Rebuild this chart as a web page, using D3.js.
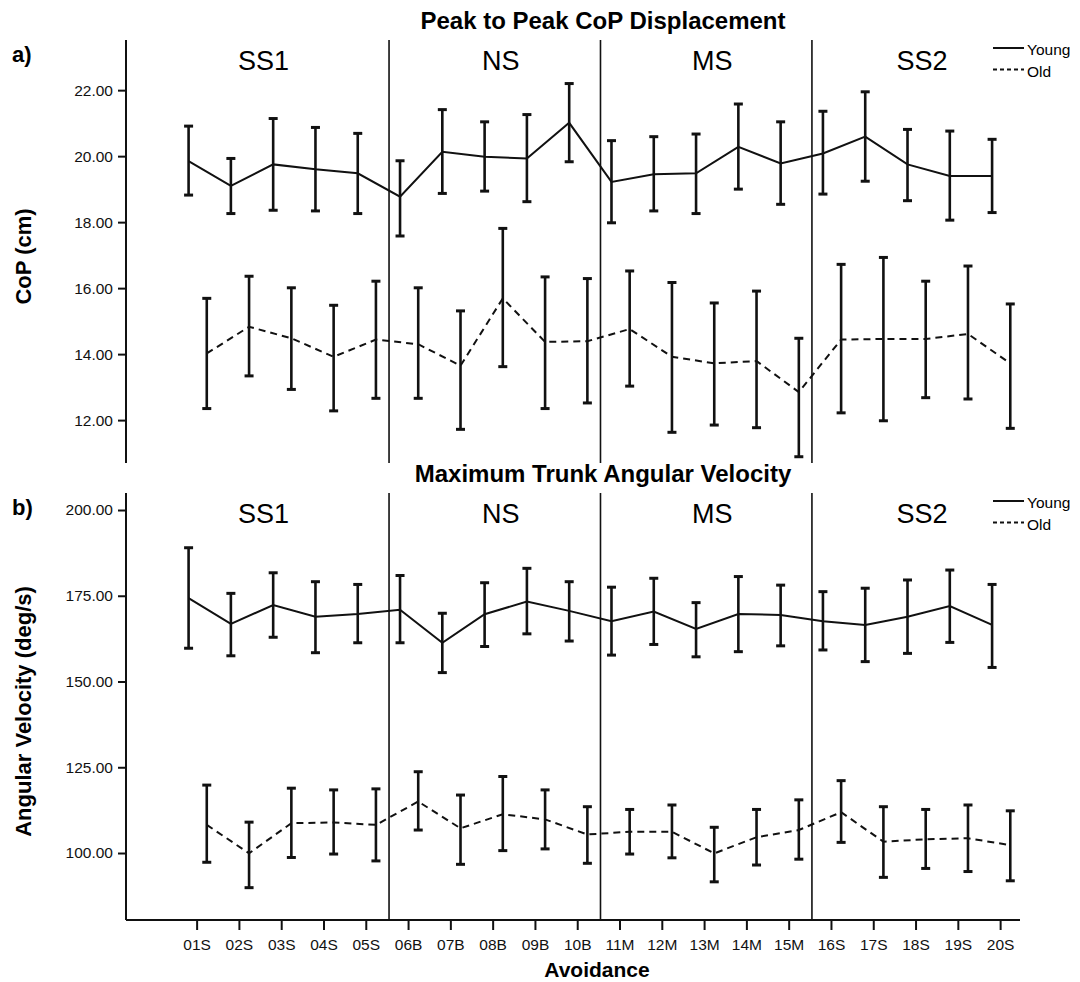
<!DOCTYPE html>
<html>
<head>
<meta charset="utf-8">
<script src="https://cdn.jsdelivr.net/npm/d3@7"></script>
<style>
  body { margin: 0; background: #fff; }
  svg { font-family: "Liberation Sans", Arial, sans-serif; }
  .title { font-weight: bold; font-size: 24px; }
  .axis-label { font-weight: bold; font-size: 22px; }
  .panel-label { font-weight: bold; font-size: 22px; }
  .segment { font-size: 27px; }
  .legend text { font-size: 15.5px; }
  .tick text { font-size: 15.5px; }
</style>
</head>
<body>
<svg width="1080" height="982"></svg>
<script>
// categories on the x axis
const categories = ['01S','02S','03S','04S','05S','06B','07B','08B','09B','10B',
                    '11M','12M','13M','14M','15M','16S','17S','18S','19S','20S'];
const segments = ['SS1', 'NS', 'MS', 'SS2'];

// a) Peak to Peak CoP Displacement (cm)
const copYoungMean  = [19.85,19.10,19.75,19.60,19.48,18.77,20.13,19.98,19.93,21.01,19.22,19.45,19.48,20.28,19.78,20.08,20.59,19.75,19.40,19.40];
const copYoungUpper = [20.91,19.93,21.14,20.87,20.69,19.86,21.41,21.04,21.26,22.20,20.47,20.59,20.67,21.58,21.04,21.36,21.95,20.81,20.76,20.51];
const copYoungLower = [18.82,18.26,18.36,18.34,18.26,17.58,18.87,18.94,18.62,19.83,17.98,18.34,18.26,19.00,18.54,18.85,19.24,18.65,18.06,18.29];
const copOldMean    = [14.02,14.83,14.48,13.92,14.44,14.30,13.65,15.69,14.37,14.39,14.76,13.92,13.72,13.79,12.85,14.44,14.46,14.46,14.61,13.72];
const copOldUpper   = [15.69,16.36,16.01,15.48,16.21,16.01,15.31,17.81,16.34,16.29,16.52,16.17,15.55,15.91,14.48,16.72,16.93,16.21,16.67,15.52];
const copOldLower   = [12.35,13.34,12.93,12.28,12.66,12.66,11.72,13.62,12.35,12.52,13.03,11.63,11.85,11.77,10.89,12.22,11.98,12.68,12.64,11.75];
const copTicks = [12, 14, 16, 18, 20, 22];

// b) Maximum Trunk Angular Velocity (deg/s)
const velYoungMean  = [174.3,166.8,172.3,168.9,169.7,170.9,161.3,169.6,173.3,170.6,167.6,170.4,165.3,169.7,169.4,167.6,166.5,168.9,172.0,166.5];
const velYoungUpper = [189.0,175.7,181.7,179.1,178.3,180.9,169.9,178.8,183.0,179.1,177.5,180.1,173.0,180.6,178.1,176.2,177.2,179.6,182.5,178.3];
const velYoungLower = [159.7,157.5,162.9,158.4,161.3,161.3,152.6,160.2,163.9,161.8,157.7,160.8,157.2,158.7,160.4,159.2,155.8,158.2,161.4,154.1];
const velOldMean    = [108.2, 99.9,108.7,108.9,108.2,115.0,107.2,111.3,109.8,105.4,106.2,106.2, 99.9,104.6,106.7,111.9,103.3,104.0,104.3,102.3];
const velOldUpper   = [119.8,109.0,118.9,118.4,118.7,123.7,116.9,122.3,118.4,113.5,112.7,114.0,107.5,112.7,115.5,121.1,113.5,112.7,114.0,112.3];
const velOldLower   = [ 97.3, 89.9, 98.7, 99.7, 97.7,106.7, 96.7,100.7,101.2, 97.0, 99.7, 98.6, 91.6, 96.5, 98.2,103.1, 92.9, 95.5, 94.6, 91.9];
const velTicks = [100, 125, 150, 175, 200];

const svg = d3.select('svg');

// x positions: category index -> pixels
const xScale = d3.scaleLinear()
  .domain([-1.67, 19.47])
  .range([126, 1020]);
const youngShift = -0.19;
const oldShift = 0.24;
const separators = [4.55, 9.55, 14.55];
const bounds = [-1.67, 4.55, 9.55, 14.55, 19.47];

const drawPanel = (p) => {
  const yScale = d3.scaleLinear().domain(p.domain).range([p.bottom, p.top]);
  const g = svg.append('g');

  // separators between conditions
  g.selectAll('line.sep').data(separators).enter().append('line')
    .attr('class', 'sep')
    .attr('x1', d => xScale(d)).attr('x2', d => xScale(d))
    .attr('y1', p.top).attr('y2', p.bottom)
    .attr('stroke', '#111').attr('stroke-width', 1.6);

  // condition labels
  g.selectAll('text.segment').data(segments).enter().append('text')
    .attr('class', 'segment')
    .attr('x', (d, i) => (xScale(bounds[i]) + xScale(bounds[i + 1])) / 2 + 6)
    .attr('y', p.top + 30)
    .attr('text-anchor', 'middle')
    .text(d => d);

  // y axis
  const yAxis = d3.axisLeft(yScale)
    .tickValues(p.ticks)
    .tickFormat(d3.format('.2f'))
    .tickSize(8)
    .tickPadding(5);
  const yAxisG = g.append('g')
    .attr('transform', `translate(${xScale.range()[0]},0)`)
    .call(yAxis);
  yAxisG.select('.domain').remove();
  yAxisG.selectAll('.tick line').attr('stroke', '#111').attr('stroke-width', 2);
  yAxisG.selectAll('.tick text').attr('fill', '#111').attr('font-family', null).attr('font-size', null);
  g.append('line')
    .attr('x1', xScale.range()[0]).attr('x2', xScale.range()[0])
    .attr('y1', p.top).attr('y2', p.bottom)
    .attr('stroke', '#111').attr('stroke-width', 2);

  // y axis title
  g.append('text')
    .attr('class', 'axis-label')
    .attr('transform', `translate(31,${(p.top + p.bottom) / 2 + 5}) rotate(-90)`)
    .attr('text-anchor', 'middle')
    .text(p.yLabel);

  // panel label and title
  g.append('text').attr('class', 'panel-label')
    .attr('x', 12).attr('y', p.top + 22).text(p.tag);
  g.append('text').attr('class', 'title')
    .attr('x', 603).attr('y', p.top - 11)
    .attr('text-anchor', 'middle').text(p.title);

  const groups = [
    { mean: p.oldMean, upper: p.oldUpper, lower: p.oldLower, shift: oldShift, dash: '7,5' },
    { mean: p.youngMean, upper: p.youngUpper, lower: p.youngLower, shift: youngShift, dash: null }
  ];

  groups.forEach(s => {
    const xs = i => xScale(i + s.shift);
    const lineGen = d3.line()
      .x((d, i) => xs(i))
      .y(d => yScale(d));
    g.append('path')
      .attr('d', lineGen(s.mean))
      .attr('fill', 'none')
      .attr('stroke', '#111')
      .attr('stroke-width', 2)
      .attr('stroke-dasharray', s.dash);

    const bars = g.append('g').selectAll('g').data(categories).enter().append('g');
    bars.append('line')
      .attr('x1', (d, i) => xs(i)).attr('x2', (d, i) => xs(i))
      .attr('y1', (d, i) => yScale(s.upper[i])).attr('y2', (d, i) => yScale(s.lower[i]))
      .attr('stroke', '#111').attr('stroke-width', 2.6);
    ['upper', 'lower'].forEach(k => {
      bars.append('line')
        .attr('x1', (d, i) => xs(i) - 4.5).attr('x2', (d, i) => xs(i) + 4.5)
        .attr('y1', (d, i) => yScale(s[k][i])).attr('y2', (d, i) => yScale(s[k][i]))
        .attr('stroke', '#111').attr('stroke-width', 3);
    });
  });

  // legend
  const lg = g.append('g').attr('class', 'legend');
  [['Young', null, 8], ['Old', '4,3', 29.5]].forEach(([name, dash, dy]) => {
    lg.append('line')
      .attr('x1', 993).attr('x2', 1024)
      .attr('y1', p.top + dy).attr('y2', p.top + dy)
      .attr('stroke', '#111').attr('stroke-width', 2)
      .attr('stroke-dasharray', dash);
    lg.append('text')
      .attr('x', 1027).attr('y', p.top + dy + 7)
      .text(name);
  });

  return yScale;
};

drawPanel({
  top: 40, bottom: 463, domain: [10.70, 23.52], ticks: copTicks,
  yLabel: 'CoP (cm)', tag: 'a)', title: 'Peak to Peak CoP Displacement',
  youngMean: copYoungMean, youngUpper: copYoungUpper, youngLower: copYoungLower,
  oldMean: copOldMean, oldUpper: copOldUpper, oldLower: copOldLower
});

drawPanel({
  top: 493, bottom: 920, domain: [80.47, 204.96], ticks: velTicks,
  yLabel: 'Angular Velocity (deg/s)', tag: 'b)', title: 'Maximum Trunk Angular Velocity',
  youngMean: velYoungMean, youngUpper: velYoungUpper, youngLower: velYoungLower,
  oldMean: velOldMean, oldUpper: velOldUpper, oldLower: velOldLower
});

// x axis (bottom panel only)
const xBand = d3.scalePoint()
  .domain(categories)
  .range([xScale(0), xScale(categories.length - 1)]);
const xAxisG = svg.append('g')
  .attr('transform', 'translate(0,920)')
  .call(d3.axisBottom(xBand).tickSize(10).tickPadding(9));
xAxisG.select('.domain').remove();
xAxisG.selectAll('.tick line').attr('stroke', '#111').attr('stroke-width', 2);
xAxisG.selectAll('.tick text').attr('fill', '#111').attr('font-family', null).attr('font-size', null);
svg.append('line')
  .attr('x1', xScale.range()[0]).attr('x2', xScale.range()[1])
  .attr('y1', 920).attr('y2', 920)
  .attr('stroke', '#111').attr('stroke-width', 2);

svg.append('text')
  .attr('class', 'axis-label')
  .attr('x', 597).attr('y', 977)
  .attr('text-anchor', 'middle')
  .style('font-size', '21px')
  .text('Avoidance');
</script>
</body>
</html>
